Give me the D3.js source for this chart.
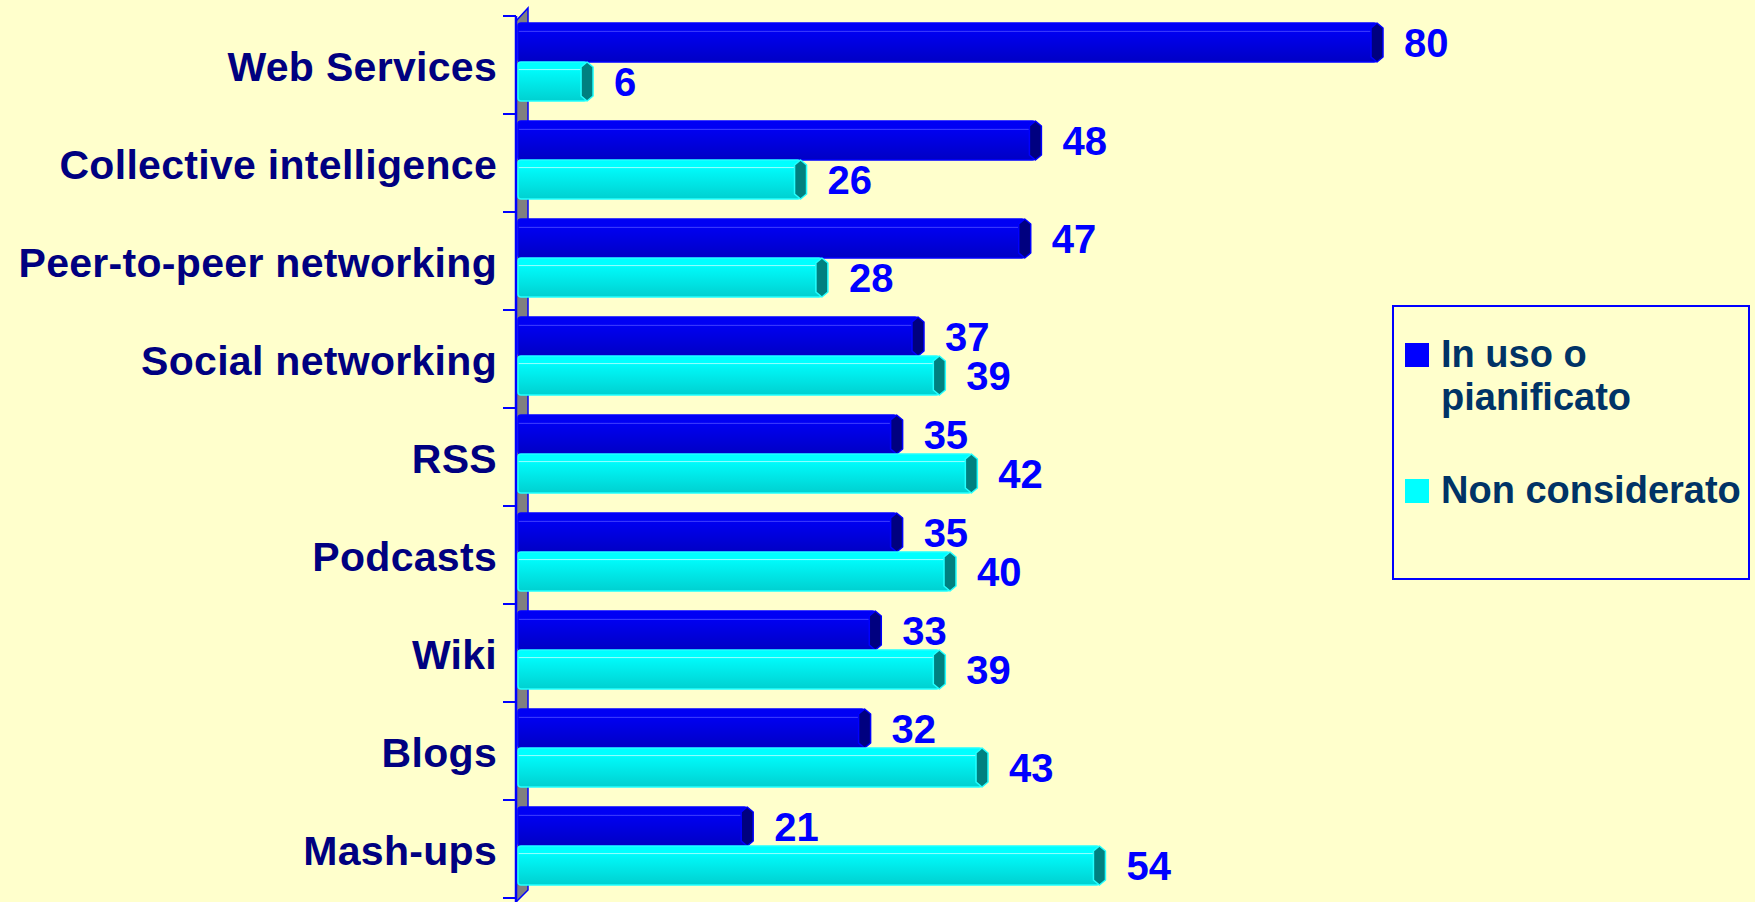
<!DOCTYPE html>
<html>
<head>
<meta charset="utf-8">
<script src="https://cdn.jsdelivr.net/npm/d3@7/dist/d3.min.js"></script>
<style>
    html, body { margin: 0; padding: 0; background: #ffffcc; }
    svg { display: block; }
    text { font-family: "Liberation Sans", Arial, sans-serif; font-weight: bold; }
</style>
</head>
<body>
<div id="chart"></div>
<script>
var categories = ["Web Services", "Collective intelligence", "Peer-to-peer networking", "Social networking",
    "RSS", "Podcasts", "Wiki", "Blogs", "Mash-ups"];
var inUso = [80, 48, 47, 37, 35, 35, 33, 32, 21];
var nonConsiderato = [6, 26, 28, 39, 42, 40, 39, 43, 54];
var seriesNames = ["In uso o pianificato", "Non considerato"];
var legendLines = [["In uso o", "pianificato"], ["Non considerato"]];

var width = 1755, height = 902;

var svg = d3.select("#chart").append("svg")
    .attr("width", width)
    .attr("height", height);

svg.append("rect")
    .attr("width", width)
    .attr("height", height)
    .attr("fill", "#ffffcc");

var defs = svg.append("defs");

// bar shading, light top to darker bottom with a thin highlight near the top
function addGradient(id, stops) {
    var g = defs.append("linearGradient")
        .attr("id", id)
        .attr("x1", 0).attr("y1", 0)
        .attr("x2", 0).attr("y2", 1);
    stops.forEach(function (s) {
        g.append("stop").attr("offset", s[0]).attr("stop-color", s[1]);
    });
}
addGradient("gradDark", [["0%", "#0000f4"], ["19%", "#0000f4"], ["21%", "#4a4aff"], ["24%", "#0000f0"], ["100%", "#0000c4"]]);
addGradient("gradCyan", [["0%", "#00ffff"], ["17%", "#00ffff"], ["19%", "#9affff"], ["22%", "#00fafa"], ["100%", "#00d0d0"]]);

var colors = {
    fill: ["url(#gradDark)", "url(#gradCyan)"],
    stroke: ["#0000ff", "#22ffff"],
    cap: ["#000080", "#008080"],
    swatch: ["#0000ff", "#00ffff"]
};

var x = d3.scaleLinear()
    .domain([0, 80])
    .range([523, 1377]);

var y = d3.scaleBand()
    .domain(categories)
    .range([16, 898]);

var ySub = d3.scaleBand()
    .domain([0, 1])
    .range([7, 85]);

// back wall strip and axis
var wallLeft = 516, wallRight = 528;
svg.append("polygon")
    .attr("points", [[wallLeft, 21], [wallRight, 8], [wallRight, 890], [wallLeft, 902]].join(" "))
    .attr("fill", "#808080")
    .attr("stroke", "#0000ff")
    .attr("stroke-width", 1.5);

svg.append("line")
    .attr("x1", wallLeft).attr("x2", wallLeft)
    .attr("y1", y.range()[0]).attr("y2", 902)
    .attr("stroke", "#0000ff")
    .attr("stroke-width", 2.5);

svg.selectAll(".tick")
    .data(categories.concat(["end"]))
    .enter().append("line")
    .attr("class", "tick")
    .attr("x1", wallLeft - 13).attr("x2", wallLeft)
    .attr("y1", function (d, i) { return y.range()[0] + i * y.step(); })
    .attr("y2", function (d, i) { return y.range()[0] + i * y.step(); })
    .attr("stroke", "#0000ff")
    .attr("stroke-width", 2);

// category labels
svg.selectAll(".cat")
    .data(categories)
    .enter().append("text")
    .attr("class", "cat")
    .attr("x", 497)
    .attr("y", function (d) { return y(d) + y.bandwidth() / 2 + 2; })
    .attr("dy", "0.35em")
    .attr("text-anchor", "end")
    .attr("font-size", 41)
    .attr("letter-spacing", 0.3)
    .attr("fill", "#000080")
    .text(function (d) { return d; });

// bars
var rows = [];
categories.forEach(function (c, i) {
    rows.push({cat: c, s: 0, value: inUso[i]});
    rows.push({cat: c, s: 1, value: nonConsiderato[i]});
});

var bars = svg.selectAll(".bar")
    .data(rows)
    .enter().append("g")
    .attr("class", "bar")
    .attr("transform", function (d) { return "translate(0," + (y(d.cat) + ySub(d.s)) + ")"; });

bars.append("rect")
    .attr("x", x(0) - 5)
    .attr("y", 0)
    .attr("width", function (d) { return x(d.value) - x(0) + 5; })
    .attr("height", ySub.bandwidth())
    .attr("rx", 3)
    .attr("fill", function (d) { return colors.fill[d.s]; })
    .attr("stroke", function (d) { return colors.stroke[d.s]; })
    .attr("stroke-width", 1.5);

bars.append("path")
    .attr("d", function (d) {
        var cx = x(d.value), h = ySub.bandwidth();
        return "M" + (cx - 6) + "," + 5 + " L" + cx + "," + 0 + " L" + (cx + 6) + "," + 5 +
            " L" + (cx + 6) + "," + (h - 5) + " L" + cx + "," + h + " L" + (cx - 6) + "," + (h - 5) + " Z";
    })
    .attr("fill", function (d) { return colors.cap[d.s]; })
    .attr("stroke", function (d) { return colors.stroke[d.s]; })
    .attr("stroke-width", 1.5)
    .attr("stroke-linejoin", "round");

bars.append("text")
    .attr("x", function (d) { return x(d.value) + 27; })
    .attr("y", ySub.bandwidth() / 2)
    .attr("dy", "0.36em")
    .attr("font-size", 40)
    .attr("fill", "#0000ff")
    .text(function (d) { return d.value; });

// legend
var legend = svg.append("g")
    .attr("transform", "translate(1393,306)");

legend.append("rect")
    .attr("width", 356)
    .attr("height", 273)
    .attr("fill", "#ffffcc")
    .attr("stroke", "#0000ff")
    .attr("stroke-width", 2);

var items = legend.selectAll(".item")
    .data(seriesNames)
    .enter().append("g")
    .attr("class", "item")
    .attr("transform", function (d, i) { return "translate(12," + (37 + i * 136) + ")"; });

items.append("rect")
    .attr("width", 24)
    .attr("height", 24)
    .attr("fill", function (d, i) { return colors.swatch[i]; });

items.append("text")
    .attr("x", 36)
    .attr("y", 24)
    .attr("font-size", 38)
    .attr("fill", "#003366")
    .selectAll("tspan")
    .data(function (d, i) { return legendLines[i]; })
    .enter().append("tspan")
    .attr("x", 36)
    .attr("dy", function (d, j) { return j === 0 ? 0 : 43; })
    .text(function (d) { return d; });
</script>
</body>
</html>
